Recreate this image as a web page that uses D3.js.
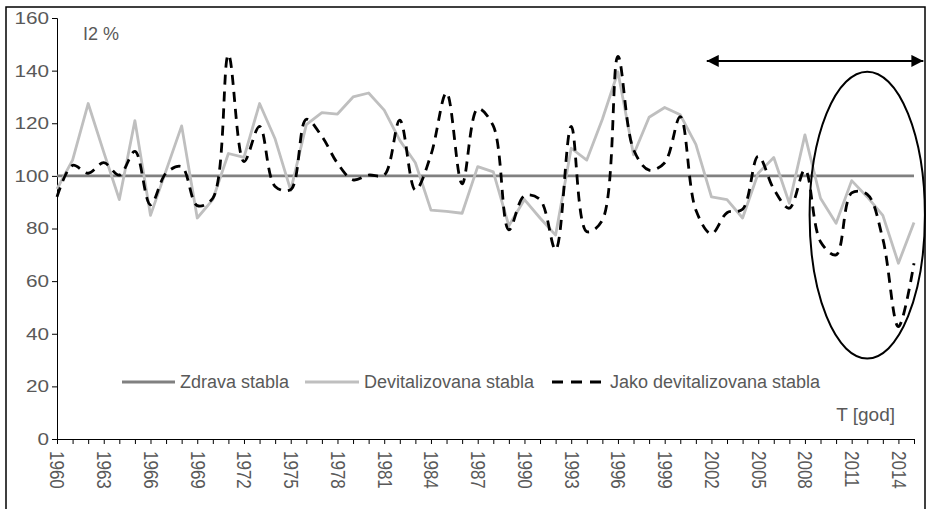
<!DOCTYPE html>
<html>
<head>
<meta charset="utf-8">
<script src="https://cdn.jsdelivr.net/npm/d3@7"></script>
<style>
  body { margin: 0; background: #fff; }
  text { font-family: "Liberation Sans", Arial, sans-serif; fill: #595959; }
</style>
</head>
<body>
<div id="chart"></div>
<script>
// godine 1960 - 2015
var years = d3.range(1960, 2016);
var xLabels = d3.range(1960, 2016, 3);
var yTicks = [0, 20, 40, 60, 80, 100, 120, 140, 160];

var zdrava = years.map(function () { return 100; });

var devitalizovana = [95, 106, 127.5, 109, 91, 121, 85, 102, 119, 84,
    91, 108.5, 107, 127.5, 114, 94.5, 119.5, 124, 123.5, 130,
    131.5, 125, 113.5, 105, 87, 86.5, 85.8, 103.5, 101.5, 81,
    91, 84, 77.5, 110.5, 106, 121.5, 139.5, 108, 122.3, 126,
    123.2, 112, 92, 91, 84, 101, 107, 89.6, 115.6, 91.5,
    82, 98.2, 92, 85, 66.8, 82.3];

var jako = [92, 104, 101, 105, 100.3, 109.3, 89, 101, 103.5, 88.7,
    91.5, 146, 105.4, 118.8, 96, 94.8, 121.5, 115, 104.8, 98.5,
    100.3, 100.3, 121.2, 94.6, 108, 131.6, 97, 125.5, 119, 79.5,
    92.5, 91, 72, 118.8, 78.8, 83.2, 145.4, 110, 102.2, 105,
    122.5, 87, 78, 86, 87.3, 107.5, 95, 87.7, 102.3, 75,
    70, 93.5, 93, 76, 42.7, 66.8];

var seriesNames = ["Zdrava stabla", "Devitalizovana stabla", "Jako devitalizovana stabla"];

var W = 927, H = 509;

var svg = d3.select("#chart").append("svg")
    .attr("width", W)
    .attr("height", H);

// okvir
svg.append("rect")
    .attr("x", 6).attr("y", 7)
    .attr("width", 919).attr("height", 510)
    .attr("fill", "none")
    .attr("stroke", "#000")
    .attr("stroke-width", 1.5);

var x = d3.scaleLinear().domain([1960, 2015]).range([57, 914]);
var y = d3.scaleLinear().domain([0, 160]).range([439, 18]);

// y osa
var yAxis = svg.append("g")
    .attr("transform", "translate(57,0)")
    .call(d3.axisLeft(y).tickValues(yTicks).tickSize(5).tickPadding(3));
yAxis.selectAll("line, path").attr("stroke", "#000");
// tekst u originalu je malo razvucen po sirini
yAxis.selectAll("text")
    .style("font-size", "17px")
    .attr("fill", "#595959")
    .attr("x", 0)
    .attr("transform", "translate(-8,0) scale(1.22,1)");

// x osa, crtica za svaku godinu
var xAxis = svg.append("g")
    .attr("transform", "translate(0,439)")
    .call(d3.axisBottom(x).tickValues(years).tickSize(5).tickSizeOuter(0)
        .tickFormat(function (d) { return xLabels.indexOf(d) >= 0 ? d : ""; }));
xAxis.selectAll("line, path").attr("stroke", "#000");
xAxis.selectAll("text")
    .style("font-size", "17px")
    .attr("fill", "#595959")
    .attr("text-anchor", "start")
    .attr("x", 0)
    .attr("y", 0)
    .attr("dy", "0.35em")
    .attr("transform", "translate(0,12) rotate(90) scale(1,1.2)");

var lineStraight = d3.line()
    .x(function (d, i) { return x(years[i]); })
    .y(function (d) { return y(d); });

var lineSmooth = d3.line()
    .x(function (d, i) { return x(years[i]); })
    .y(function (d) { return y(d); })
    .curve(d3.curveCatmullRom.alpha(0.5));

svg.append("path")
    .attr("d", lineStraight(zdrava))
    .attr("fill", "none")
    .attr("stroke", "#808080")
    .attr("stroke-width", 2.8);

svg.append("path")
    .attr("d", lineStraight(devitalizovana))
    .attr("fill", "none")
    .attr("stroke", "#bfbfbf")
    .attr("stroke-width", 2.8)
    .attr("stroke-linejoin", "round");

svg.append("path")
    .attr("d", lineSmooth(jako))
    .attr("fill", "none")
    .attr("stroke", "#000")
    .attr("stroke-width", 2.8)
    .attr("stroke-dasharray", "10,7");

// natpisi
svg.append("text")
    .attr("x", 83).attr("y", 40)
    .style("font-size", "18px")
    .text("I2 %");

svg.append("text")
    .attr("x", 895).attr("y", 421)
    .attr("text-anchor", "end")
    .style("font-size", "19px")
    .text("T [god]");

// legenda
var legendY = 382;
var legendItems = [
    { x1: 122, x2: 175, tx: 180, color: "#808080", dash: null },
    { x1: 305, x2: 359, tx: 364, color: "#bfbfbf", dash: null },
    { x1: 552, x2: 605, tx: 610, color: "#000", dash: "11,8" }
];
legendItems.forEach(function (it, i) {
    svg.append("line")
        .attr("x1", it.x1).attr("x2", it.x2)
        .attr("y1", legendY).attr("y2", legendY)
        .attr("stroke", it.color)
        .attr("stroke-width", 2.8)
        .attr("stroke-dasharray", it.dash);
    svg.append("text")
        .attr("x", it.tx).attr("y", legendY)
        .attr("dy", "0.35em")
        .style("font-size", "18px")
        .text(seriesNames[i]);
});

// strelica i elipsa
var defs = svg.append("defs");
["arrEnd", "arrStart"].forEach(function (id) {
    defs.append("marker")
        .attr("id", id)
        .attr("viewBox", "0 0 10 10")
        .attr("refX", id == "arrEnd" ? 10 : 0).attr("refY", 5)
        .attr("markerWidth", 6).attr("markerHeight", 6)
        .attr("markerUnits", "strokeWidth")
        .attr("orient", "auto")
        .append("path")
        .attr("d", id == "arrEnd" ? "M0,0 L10,5 L0,10 Z" : "M10,0 L0,5 L10,10 Z")
        .attr("fill", "#000");
});

svg.append("line")
    .attr("x1", x(2001.7)).attr("x2", x(2015.6))
    .attr("y1", y(143.7)).attr("y2", y(143.7))
    .attr("stroke", "#000")
    .attr("stroke-width", 2)
    .attr("marker-start", "url(#arrStart)")
    .attr("marker-end", "url(#arrEnd)");

svg.append("ellipse")
    .attr("cx", x(2012)).attr("cy", y(85.1))
    .attr("rx", x(2015.7) - x(2012))
    .attr("ry", y(85.1) - y(139.6))
    .attr("fill", "none")
    .attr("stroke", "#000")
    .attr("stroke-width", 2);
</script>
</body>
</html>
